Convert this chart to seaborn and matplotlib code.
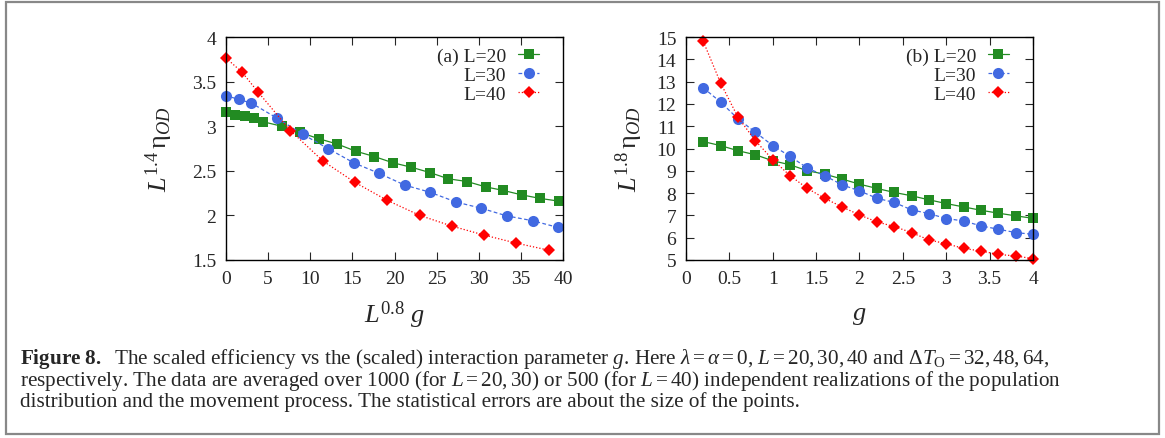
import numpy as np
import pandas as pd
import matplotlib
matplotlib.use('Agg')
import matplotlib.pyplot as plt
from matplotlib.patches import Rectangle
from matplotlib.ticker import MultipleLocator, FormatStrFormatter
import seaborn as sns

# panel (a): x = L^0.8 g, y = L^1.4 eta_OD
a_x20 = [0, 1.1, 2.2, 3.3, 4.4, 6.6, 8.8, 11.0, 13.2, 15.4, 17.6, 19.8, 22.0, 24.2, 26.4, 28.6, 30.8, 32.9, 35.1, 37.3, 39.5]
a_y20 = [3.157, 3.13, 3.12, 3.09, 3.05, 3.0, 2.93, 2.86, 2.80, 2.72, 2.66, 2.59, 2.54, 2.48, 2.41, 2.38, 2.32, 2.28, 2.23, 2.19, 2.16]
a_x30 = [0, 1.5, 3.0, 6.06, 9.09, 12.1, 15.15, 18.2, 21.2, 24.2, 27.3, 30.3, 33.3, 36.4, 39.4]
a_y30 = [3.344, 3.30, 3.26, 3.09, 2.91, 2.75, 2.59, 2.47, 2.34, 2.26, 2.15, 2.08, 1.995, 1.94, 1.865]
a_x40 = [0, 1.9, 3.83, 7.65, 11.5, 15.3, 19.1, 23.0, 26.8, 30.6, 34.4, 38.3]
a_y40 = [3.764, 3.606, 3.38, 2.95, 2.61, 2.37, 2.17, 2.00, 1.88, 1.78, 1.69, 1.61]

# panel (b): x = g, y = L^1.8 eta_OD
b_g = [0.2, 0.4, 0.6, 0.8, 1.0, 1.2, 1.4, 1.6, 1.8, 2.0, 2.2, 2.4, 2.6, 2.8, 3.0, 3.2, 3.4, 3.6, 3.8, 4.0]
b_y20 = [10.31, 10.13, 9.90, 9.72, 9.45, 9.27, 9.0, 8.85, 8.63, 8.40, 8.21, 8.03, 7.88, 7.70, 7.53, 7.38, 7.23, 7.10, 6.98, 6.87]
b_y30 = [12.72, 12.08, 11.33, 10.73, 10.13, 9.65, 9.12, 8.78, 8.37, 8.10, 7.77, 7.58, 7.25, 7.08, 6.86, 6.75, 6.53, 6.38, 6.23, 6.15]
b_y40 = [14.8, 12.93, 11.4, 10.35, 9.50, 8.78, 8.21, 7.76, 7.38, 7.02, 6.71, 6.50, 6.23, 5.90, 5.73, 5.52, 5.40, 5.25, 5.18, 5.06]

sns.set_style('ticks')
plt.rcParams['font.family'] = ['Liberation Serif', 'DejaVu Serif']
plt.rcParams['mathtext.fontset'] = 'custom'
plt.rcParams['mathtext.rm'] = 'Liberation Serif'
plt.rcParams['mathtext.it'] = 'Liberation Serif:italic'
plt.rcParams['mathtext.bf'] = 'Liberation Serif:bold'
plt.rcParams['xtick.direction'] = 'in'
plt.rcParams['ytick.direction'] = 'in'

styles = [
    dict(color='#228b22', marker='s', ms=7.5, ls='-'),
    dict(color='#4169e1', marker='o', ms=8, ls=(0, (3, 2))),
    dict(color='#ff0000', marker='D', ms=6.5, ls=(0, (1, 1.6))),
]

fig = plt.figure(figsize=(11.65, 4.39), dpi=100)
ax1 = fig.add_axes([0.194, 0.4055, 0.2893, 0.5079])
ax2 = fig.add_axes([0.5888, 0.4055, 0.2979, 0.5079])

panel_a = [(a_x20, a_y20, '(a) L=20'), (a_x30, a_y30, 'L=30'), (a_x40, a_y40, 'L=40')]
panel_b = [(b_g, b_y20, '(b) L=20'), (b_g, b_y30, 'L=30'), (b_g, b_y40, 'L=40')]

for ax, panel in [(ax1, panel_a), (ax2, panel_b)]:
    for (xs, ys, lab), st in zip(panel, styles):
        df = pd.DataFrame({'x': xs, 'y': ys})
        sns.lineplot(data=df, x='x', y='y', ax=ax, color=st['color'], marker=st['marker'],
                     markersize=st['ms'], markeredgewidth=0, linestyle=st['ls'],
                     linewidth=0.9, label=lab, clip_on=False)
    leg = ax.legend(loc='upper right', bbox_to_anchor=(0.97, 1.015), markerfirst=False,
                    frameon=False, fontsize=14, handlelength=1.1, handletextpad=0.6,
                    labelspacing=0.08, borderaxespad=0.3)
    for sp in ax.spines.values():
        sp.set_linewidth(1.0)
        sp.set_color('black')
    ax.tick_params(which='both', top=True, right=True, length=6, width=0.8,
                   labelsize=14, pad=7)
    ax.yaxis.set_major_formatter(FormatStrFormatter('%g'))
    ax.xaxis.set_major_formatter(FormatStrFormatter('%g'))

ax1.set_xlim(0, 40)
ax1.set_ylim(1.5, 4)
ax1.xaxis.set_major_locator(MultipleLocator(5))
ax1.yaxis.set_major_locator(MultipleLocator(0.5))
ax1.set_xlabel(r'$L^{\mathit{0.8}}\ g$', fontsize=19)
ax1.set_ylabel(r'$L^{\mathit{1.4}}\,\mathrm{\eta}_{OD}$', fontsize=19, labelpad=12)

ax2.set_xlim(0, 4)
ax2.set_ylim(5, 15)
ax2.xaxis.set_major_locator(MultipleLocator(0.5))
ax2.yaxis.set_major_locator(MultipleLocator(1))
ax2.set_xlabel(r'$g$', fontsize=19)
ax2.set_ylabel(r'$L^{\mathit{1.8}}\,\mathrm{\eta}_{OD}$', fontsize=19, labelpad=8)

for ax in (ax1, ax2):
    ax.xaxis.set_label_coords(0.5, -0.245)
    ax.xaxis.label.set_va('center')

# caption
cap = 15.2
fig.text(0.0172, 0.171,
         r'$\mathbf{Figure\ 8.}$  The scaled efficiency vs the (scaled) interaction parameter $g$. Here $\lambda=\alpha=0$, '
         r'$L=20,30,40$ and $\Delta T_{\mathrm{O}}=32,48,64$,', fontsize=cap, va='baseline')
fig.text(0.0172, 0.1215,
         r'respectively. The data are averaged over 1000 (for $L=20,30$) or 500 (for $L=40$) '
         r'independent realizations of the population', fontsize=cap, va='baseline')
fig.text(0.0172, 0.072,
         'distribution and the movement process. The statistical errors are about the size of the points.',
         fontsize=cap, va='baseline')

fig.add_artist(Rectangle((0.0055, 0.008), 0.989, 0.985, transform=fig.transFigure,
                         fill=False, edgecolor='#888888', linewidth=1.6))

fig.savefig('out.png', dpi=100)
